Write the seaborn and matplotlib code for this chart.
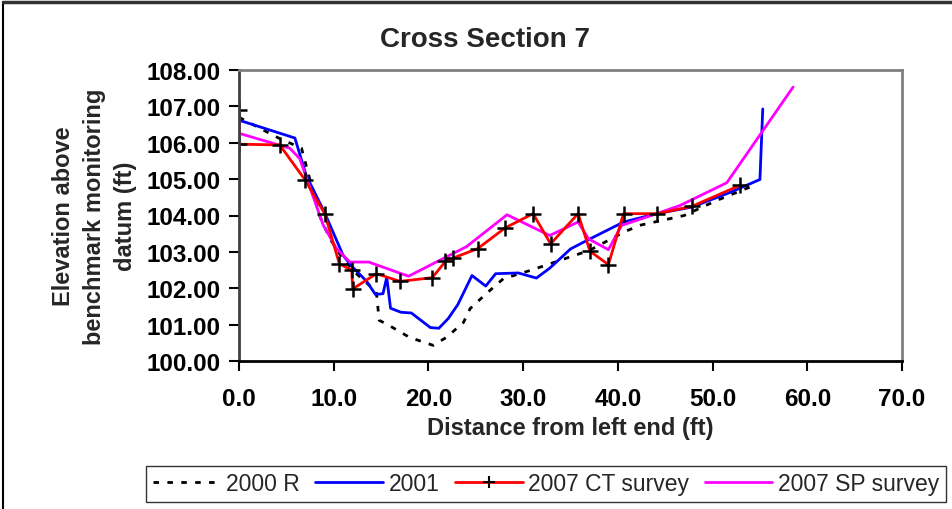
import matplotlib
matplotlib.use("Agg")
import matplotlib.pyplot as plt
import seaborn as sns
import pandas as pd
from matplotlib.lines import Line2D

sns.set_theme(style="white")
plt.rcParams['font.family'] = ['Liberation Sans', 'DejaVu Sans']

# ---- data ----
r2000_x = [0.0, 4.1, 6.6, 8.5, 9.6, 11.0, 12.4, 13.8, 14.5, 14.8, 15.9, 18.0, 20.5, 21.9, 23.7,
           24.4, 26.1, 27.9, 31.0, 34.6, 37.0, 38.8, 40.6, 42.3, 47.0, 50.4, 54.4]
r2000_y = [106.70, 106.14, 105.85, 104.00, 103.36, 102.80, 102.40, 102.07, 101.90, 101.12, 100.97,
           100.65, 100.43, 100.65, 101.06, 101.44, 101.85, 102.26, 102.51, 102.83, 103.04, 103.29,
           103.54, 103.73, 104.00, 104.41, 104.83]

y2001_x = [0.0, 5.9, 7.1, 9.0, 11.0, 12.0, 13.45, 14.4, 15.2, 15.6, 16.0, 17.1, 18.2, 20.2, 21.1,
           22.1, 23.1, 24.6, 26.05, 27.1, 29.5, 31.4, 32.8, 35.0, 36.7, 40.6, 44.1, 47.8, 52.0,
           55.0, 55.3]
y2001_y = [106.62, 106.13, 105.10, 104.10, 102.90, 102.58, 102.20, 101.83, 101.85, 102.30, 101.45,
           101.34, 101.32, 100.92, 100.90, 101.17, 101.55, 102.35, 102.06, 102.40, 102.42, 102.28,
           102.55, 103.08, 103.31, 103.82, 104.05, 104.23, 104.65, 104.99, 106.93]

ct_x = [0.0, 0.0, 4.3, 7.0, 9.05, 10.6, 11.9, 12.0, 14.5, 17.0, 20.4, 21.8, 22.6, 25.2, 28.1,
        31.05, 32.9, 35.8, 37.05, 39.0, 40.6, 44.1, 47.8, 52.9]
ct_y = [106.90, 105.96, 105.94, 104.97, 104.05, 102.67, 102.50, 101.98, 102.40, 102.19, 102.29,
        102.74, 102.83, 103.09, 103.66, 104.05, 103.22, 104.05, 103.02, 102.65, 104.05, 104.05,
        104.25, 104.83]

sp_x = [0.0, 0.0, 5.35, 6.4, 8.9, 10.3, 11.7, 13.7, 17.9, 21.5, 24.0, 28.3, 32.8, 35.8, 36.9,
        39.0, 40.4, 44.1, 46.6, 51.5, 58.5]
sp_y = [107.18, 106.26, 105.85, 105.57, 103.73, 103.09, 102.72, 102.72, 102.33, 102.81, 103.14,
        104.02, 103.45, 103.82, 103.36, 103.06, 103.73, 104.05, 104.28, 104.90, 107.53]

series_names = ["2000 R", "2001", "2007 CT survey", "2007 SP survey"]
x_ticks = [0, 10, 20, 30, 40, 50, 60, 70]
y_ticks = [100, 101, 102, 103, 104, 105, 106, 107, 108]

title = "Cross Section 7"
xlabel = "Distance from left end (ft)"
ylabel = "Elevation above\nbenchmark monitoring\ndatum (ft)"

# ---- figure ----
W, H = 953, 510
fig = plt.figure(figsize=(W / 100, H / 100), dpi=100)
fig.patch.set_facecolor("white")
ax = fig.add_axes([239 / W, 1 - 362 / H, (902 - 239) / W, (362 - 71) / H])

def df(x, y):
    return pd.DataFrame({"x": x, "y": y})

DOT = (0, (2, 3))
sns.lineplot(data=df(r2000_x, r2000_y), x="x", y="y", ax=ax, sort=False, estimator=None,
             color="black", linewidth=2, linestyle=DOT)
sns.lineplot(data=df(y2001_x, y2001_y), x="x", y="y", ax=ax, sort=False, estimator=None,
             color="#0000ff", linewidth=2)
sns.lineplot(data=df(sp_x, sp_y), x="x", y="y", ax=ax, sort=False, estimator=None,
             color="#ff00ff", linewidth=2)
sns.lineplot(data=df(ct_x, ct_y), x="x", y="y", ax=ax, sort=False, estimator=None,
             color="#ff0000", linewidth=2, marker="+", markersize=11,
             markeredgecolor="black", markerfacecolor="black", markeredgewidth=1.8)

ax.set_xlim(0, 70)
ax.set_ylim(100, 108)
ax.set_xticks(x_ticks)
ax.set_yticks(y_ticks)
ax.set_xticklabels([f"{v:.1f}" for v in x_ticks])
ax.set_yticklabels([f"{v:.2f}" for v in y_ticks])
ax.tick_params(axis="both", which="major", direction="out", length=7, width=1.5,
               colors="black", labelsize=17.5, bottom=True, left=True)
for lab in ax.get_xticklabels() + ax.get_yticklabels():
    lab.set_fontweight("bold")
ax.tick_params(axis="x", pad=12)
ax.tick_params(axis="y", pad=6)

ax.set_xlabel(xlabel, fontsize=17, fontweight="bold", labelpad=4)
ax.set_ylabel(ylabel, fontsize=17, fontweight="bold", labelpad=7, linespacing=1.45)
ax.grid(False)
ax.spines["left"].set_color("#404040")
ax.spines["left"].set_linewidth(2)
ax.spines["bottom"].set_color("black")
ax.spines["bottom"].set_linewidth(2)
for s in ["top", "right"]:
    ax.spines[s].set_color("#808080")
    ax.spines[s].set_linewidth(2)

fig.text(485 / W, 1 - 40 / H, title, ha="center", va="center", fontsize=20, fontweight="bold")

handles = [
    Line2D([], [], color="black", linewidth=2, linestyle=DOT),
    Line2D([], [], color="#0000ff", linewidth=2),
    Line2D([], [], color="#ff0000", linewidth=2, marker="+", markersize=9,
           markeredgecolor="black", markeredgewidth=1.5),
    Line2D([], [], color="#ff00ff", linewidth=2),
]
leg = fig.legend(handles, series_names, loc="center", bbox_to_anchor=(546 / W, 1 - 485 / H),
                 ncol=4, frameon=True, fontsize=16.5, handlelength=2.95, handletextpad=0.25,
                 columnspacing=0.68, borderpad=0.3, borderaxespad=0, fancybox=False)
leg.get_frame().set_edgecolor("black")
leg.get_frame().set_linewidth(1)

# outer chart frame (top and left visible)
fig.add_artist(Line2D([3 / W, 3 / W], [0, 1 - 3 / H], transform=fig.transFigure,
                      color="black", linewidth=1.5))
fig.add_artist(Line2D([3 / W, 1], [1 - 3 / H, 1 - 3 / H], transform=fig.transFigure,
                      color="#333333", linewidth=2.5))

fig.savefig("out.png", dpi=100, facecolor="white")
